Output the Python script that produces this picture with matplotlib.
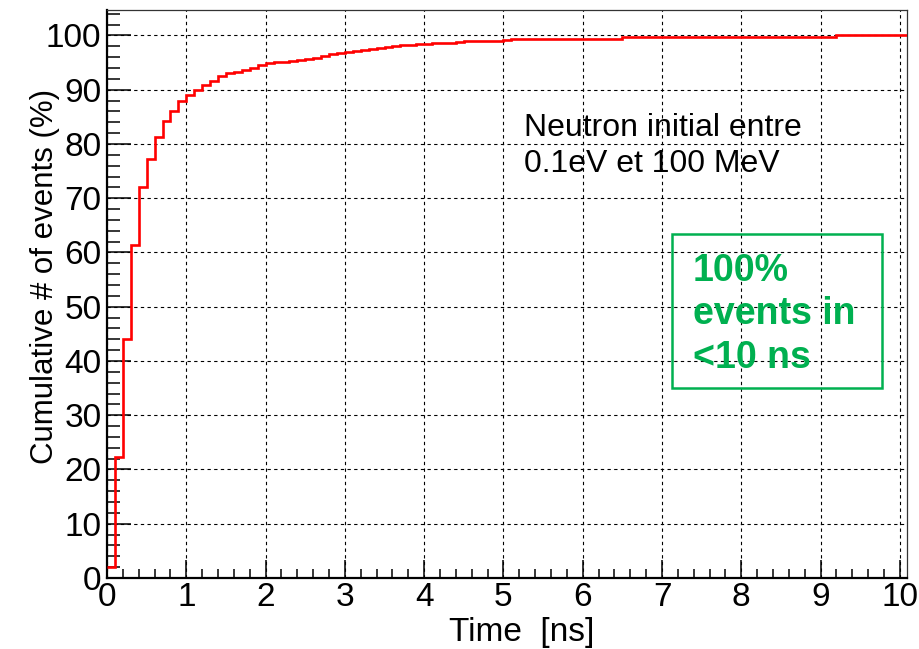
import numpy as np
import matplotlib
matplotlib.use("Agg")
from matplotlib import pyplot as plt
from matplotlib.ticker import MultipleLocator
from matplotlib.patches import Rectangle

# cumulative fraction of events (%) per 0.1 ns bin, starting at t = 0
bin_width = 0.1
cumul = [2.0, 22.3, 44.1, 61.3, 72.0, 77.2, 81.2, 84.3, 86.1, 87.9,
         89.0, 89.9, 90.9, 91.6, 92.5, 93.0, 93.3, 93.6, 94.1, 94.5,
         94.9, 95.1, 95.2, 95.3, 95.5, 95.7, 95.9, 96.2, 96.6, 96.8,
         97.0, 97.2, 97.4, 97.6, 97.7, 97.9, 98.1, 98.2, 98.3, 98.4,
         98.5, 98.6, 98.6, 98.7, 98.8, 98.9, 99.0, 99.0, 99.0, 99.0,
         99.2, 99.3, 99.3, 99.3, 99.4, 99.4, 99.4, 99.4, 99.4, 99.4,
         99.4, 99.4, 99.4, 99.4, 99.4, 99.8, 99.8, 99.8, 99.8, 99.8,
         99.8, 99.8, 99.8, 99.8, 99.8, 99.8, 99.8, 99.8, 99.8, 99.8,
         99.8, 99.8, 99.8, 99.8, 99.8, 99.8, 99.8, 99.8, 99.8, 99.8,
         99.8, 99.8, 100.0, 100.0, 100.0, 100.0, 100.0, 100.0, 100.0, 100.0,
         100.0]

x_ticks = [0, 1, 2, 3, 4, 5, 6, 7, 8, 9, 10]
y_ticks = [0, 10, 20, 30, 40, 50, 60, 70, 80, 90, 100]

note_lines = ['Neutron initial entre', '0.1eV et 100 MeV']
box_lines = ['100%', 'events in', '<10 ns']

font = 'Liberation Sans'
W, H = 919, 649

fig = plt.figure(figsize=(W / 100, H / 100), dpi=100)
ax = fig.add_axes([107 / W, 1 - 578 / H, 800 / W, 568 / H])

edges = np.arange(len(cumul) + 1) * bin_width
ax.stairs(cumul, edges, baseline=None, color='red', lw=1.9, zorder=3)

ax.set_xlim(0, 10.09)
ax.set_ylim(0, 104.7)
ax.set_xticks(x_ticks)
ax.set_yticks(y_ticks)
ax.xaxis.set_minor_locator(MultipleLocator(0.2))
ax.yaxis.set_minor_locator(MultipleLocator(2))
ax.grid(True, which='major', color='black', ls=(0, (3, 3)), lw=0.8)

ax.tick_params(axis='x', which='major', direction='in', length=13, width=1.1,
               pad=3, labelsize=24)
ax.tick_params(axis='x', which='minor', direction='in', length=6.5, width=1.1)
ax.tick_params(axis='y', which='major', direction='in', length=17, width=1.1,
               pad=4, labelsize=24)
ax.tick_params(axis='y', which='minor', direction='in', length=9, width=1.1)
for lab in ax.get_xticklabels() + ax.get_yticklabels():
    lab.set_fontfamily(font)

for side in ['left', 'bottom']:
    ax.spines[side].set_linewidth(1.6)
for side in ['top', 'right']:
    ax.spines[side].set_linewidth(0.9)
    ax.spines[side].set_color('#333333')

fig.text(522 / W, 1 - 632 / H, 'Time  [ns]', ha='center', va='center',
         fontsize=24, family=font)
fig.text(45 / W, 1 - 276 / H, 'Cumulative # of events (%)', rotation=90,
         ha='center', va='center', fontsize=22.5, family=font)

for line, base in zip(note_lines, [136, 172]):
    fig.text(524 / W, 1 - base / H, line, ha='left', va='baseline',
             fontsize=23, family=font)

green = '#00B050'
fig.patches.append(Rectangle((672 / W, 1 - 388 / H), 210 / W, 154 / H,
                             transform=fig.transFigure, fill=False,
                             edgecolor=green, lw=1.8))
for line, base in zip(box_lines, [281, 324, 368]):
    fig.text(693 / W, 1 - base / H, line, ha='left', va='baseline',
             fontsize=27, fontweight='bold', color=green, family=font)

fig.savefig('out.png', dpi=100)
